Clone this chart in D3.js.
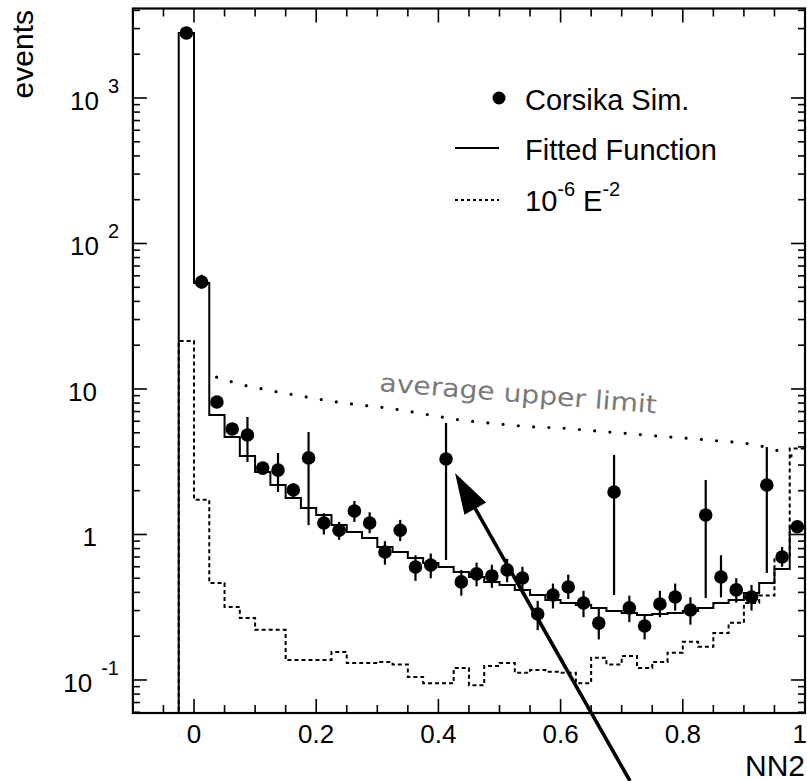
<!DOCTYPE html>
<html><head><meta charset="utf-8">
<script src="https://cdn.jsdelivr.net/npm/d3@7"></script>
<style>
body{margin:0;background:#fff}
svg{display:block}
text{font-family:"Liberation Sans",Arial,Helvetica,sans-serif;fill:#000}
</style>
</head><body>
<svg id="c" width="807" height="781"></svg>
<script>
// ---------------- DATA ----------------
const binCenters = [-0.0125, 0.0125, 0.0375, 0.0625, 0.0875, 0.1125, 0.1375, 0.1625, 0.1875, 0.2125,
  0.2375, 0.2625, 0.2875, 0.3125, 0.3375, 0.3625, 0.3875, 0.4125, 0.4375, 0.4625,
  0.4875, 0.5125, 0.5375, 0.5625, 0.5875, 0.6125, 0.6375, 0.6625, 0.6875, 0.7125,
  0.7375, 0.7625, 0.7875, 0.8125, 0.8375, 0.8625, 0.8875, 0.9125, 0.9375, 0.9625, 0.9875];
const binWidth = 0.025;

// Corsika Sim. (points)
const simValues = [2800, 54.4, 8.14, 5.31, 4.83, 2.86, 2.77, 2.02, 3.36, 1.20,
  1.07, 1.45, 1.20, 0.758, 1.07, 0.598, 0.617, 3.30, 0.472, 0.536,
  0.519, 0.570, 0.502, 0.284, 0.384, 0.436, 0.338, 0.246, 1.96, 0.313,
  0.235, 0.333, 0.372, 0.303, 1.36, 0.510, 0.416, 0.372, 2.19, 0.700, 1.13];
const simErrLow = [2750, 49, 7.6, 4.9, 3.15, 2.6, 1.96, 1.8, 1.16, 1.0,
  0.92, 1.22, 1.02, 0.62, 0.9, 0.48, 0.5, 0.668, 0.38, 0.44,
  0.43, 0.47, 0.41, 0.22, 0.31, 0.36, 0.27, 0.19, 0.384, 0.25,
  0.19, 0.27, 0.3, 0.24, 0.366, 0.37, 0.34, 0.3, 0.544, 0.6, 1.05];
const simErrHigh = [2850, 61, 8.7, 5.7, 6.42, 3.15, 3.63, 2.25, 5.06, 1.4,
  1.22, 1.7, 1.42, 0.9, 1.26, 0.72, 0.74, 5.84, 0.57, 0.64,
  0.62, 0.68, 0.6, 0.35, 0.46, 0.53, 0.41, 0.31, 3.52, 0.38,
  0.28, 0.41, 0.46, 0.37, 2.37, 0.72, 0.5, 0.45, 3.99, 0.82, 1.22];

// Fitted Function (solid histogram)
const fitValues = [2800, 53.5, 6.63, 4.68, 3.46, 2.69, 2.19, 1.78, 1.52, 1.36,
  1.16, 1.04, 0.946, 0.82, 0.758, 0.69, 0.637, 0.598, 0.552, 0.51,
  0.472, 0.45, 0.415, 0.384, 0.355, 0.338, 0.328, 0.313, 0.298, 0.289,
  0.28, 0.284, 0.289, 0.298, 0.313, 0.338, 0.355, 0.396, 0.464, 0.579, 1.13];

// 10^-6 E^-2 (dashed histogram)
const e2Values = [21.4, 1.73, 0.464, 0.318, 0.267, 0.221, 0.221, 0.137, 0.137, 0.137,
  0.156, 0.131, 0.131, 0.133, 0.128, 0.105, 0.095, 0.095, 0.121, 0.092,
  0.125, 0.131, 0.112, 0.117, 0.114, 0.112, 0.095, 0.142, 0.128, 0.146,
  0.121, 0.133, 0.154, 0.183, 0.169, 0.21, 0.247, 0.338, 0.38, 0.70, 3.9];

// average upper limit (dotted curve)
const ulX = [0.037, 0.062, 0.087, 0.112, 0.137, 0.162, 0.187, 0.212, 0.237, 0.262, 0.287, 0.312,
  0.336, 0.386, 0.436, 0.5, 0.55, 0.6, 0.66, 0.76, 0.86, 0.91, 0.96, 0.985];
const ulY = [12.05, 11.2, 10.5, 10.0, 9.53, 9.14, 8.77, 8.40, 8.10, 7.85, 7.64, 7.44,
  7.2, 6.62, 6.12, 5.75, 5.51, 5.39, 5.14, 4.75, 4.39, 4.19, 3.71, 3.36];

// axes
const xDomain = [-0.1, 1.0];
const yDomain = [0.0593, 4122];
const xTickLabels = [0, 0.2, 0.4, 0.6, 0.8, 1];
const xTickText = ["0", "0.2", "0.4", "0.6", "0.8", "1"];
const yTickVals = [0.1, 1, 10, 100, 1000];
const yTickBase = ["10", "1", "10", "10", "10"];
const yTickExp = ["-1", "", "", "2", "3"];

// ---------------- DRAW ----------------
const svg = d3.select("#c");
svg.append("rect").attr("width", 807).attr("height", 781).attr("fill", "#fff");
const L = 132.9, R = 805, T = 8.5, B = 713;
const x = d3.scaleLinear().domain(xDomain).range([L, R]);
const y = d3.scaleLog().domain(yDomain).range([B, T]);

svg.append("clipPath").attr("id", "clip").append("rect")
  .attr("x", L).attr("y", T).attr("width", R - L).attr("height", B - T);
const plot = svg.append("g").attr("clip-path", "url(#clip)");

function stepPath(vals) {
  const p = d3.path();
  const x0 = binCenters[0] - binWidth / 2;
  p.moveTo(x(x0), B + 5);
  vals.forEach((v, i) => {
    const a = binCenters[i] - binWidth / 2, b = binCenters[i] + binWidth / 2;
    p.lineTo(x(a), y(v));
    p.lineTo(x(b), y(v));
  });
  const last = binCenters[binCenters.length - 1] + binWidth / 2;
  p.lineTo(x(last), B + 5);
  return p.toString();
}

// dashed E^-2 histogram
plot.append("path").attr("d", stepPath(e2Values)).attr("fill", "none")
  .attr("stroke", "#000").attr("stroke-width", 2).attr("stroke-dasharray", "4,3");
// fitted function
plot.append("path").attr("d", stepPath(fitValues)).attr("fill", "none")
  .attr("stroke", "#000").attr("stroke-width", 2);

// average upper limit dotted curve
const ulLine = d3.line().x((d, i) => x(ulX[i])).y((d, i) => y(ulY[i])).curve(d3.curveMonotoneX);
plot.append("path").attr("d", ulLine(ulX)).attr("fill", "none")
  .attr("stroke", "#000").attr("stroke-width", 3.2).attr("stroke-linecap", "round")
  .attr("stroke-dasharray", "0,15.3");

// text on the upper-limit curve
svg.append("text").attr("transform", "translate(379,391) rotate(4.6)")
  .attr("font-size", 25).attr("textLength", 278).attr("lengthAdjust", "spacingAndGlyphs")
  .style("font-family", "'DejaVu Sans',sans-serif").style("fill", "#7a7a7a")
  .text("average upper limit");

// error bars and markers
const pts = plot.append("g");
binCenters.forEach((c, i) => {
  pts.append("line").attr("x1", x(c)).attr("x2", x(c))
    .attr("y1", y(simErrLow[i])).attr("y2", y(simErrHigh[i]))
    .attr("stroke", "#000").attr("stroke-width", 2.2);
});
pts.selectAll("circle").data(simValues).enter().append("circle")
  .attr("cx", (d, i) => x(binCenters[i])).attr("cy", d => y(d)).attr("r", 6.8).attr("fill", "#000");

// frame
svg.append("rect").attr("x", L).attr("y", T).attr("width", R - L).attr("height", B - T)
  .attr("fill", "none").attr("stroke", "#000").attr("stroke-width", 2.2);

// x ticks (bottom and top, inward)
const xMinor = d3.range(-0.05, 1.0001, 0.05).filter(v => Math.abs(v / 0.2 - Math.round(v / 0.2)) > 1e-6);
const gx = svg.append("g").attr("stroke", "#000").attr("stroke-width", 1.6);
xTickLabels.forEach(v => {
  gx.append("line").attr("x1", x(v)).attr("x2", x(v)).attr("y1", B).attr("y2", B - 14);
  gx.append("line").attr("x1", x(v)).attr("x2", x(v)).attr("y1", T).attr("y2", T + 14);
});
xMinor.forEach(v => {
  gx.append("line").attr("x1", x(v)).attr("x2", x(v)).attr("y1", B).attr("y2", B - 8);
  gx.append("line").attr("x1", x(v)).attr("x2", x(v)).attr("y1", T).attr("y2", T + 8);
});
xTickLabels.forEach((v, i) => {
  const t = svg.append("text").attr("y", 743).attr("font-size", 26).text(xTickText[i]);
  if (v === 1) t.attr("x", 807).attr("text-anchor", "end");
  else t.attr("x", x(v)).attr("text-anchor", "middle");
});

// y ticks (left and right, inward)
const gy = svg.append("g").attr("stroke", "#000").attr("stroke-width", 1.6);
const yAll = y.ticks(30).filter(v => v >= yDomain[0] && v <= yDomain[1]);
yAll.forEach(v => {
  const major = Math.abs(Math.log10(v) - Math.round(Math.log10(v))) < 1e-9;
  const len = major ? 14 : 7;
  gy.append("line").attr("x1", L).attr("x2", L + len).attr("y1", y(v)).attr("y2", y(v));
  gy.append("line").attr("x1", R).attr("x2", R - len).attr("y1", y(v)).attr("y2", y(v));
});
yTickVals.forEach((v, i) => {
  const t = svg.append("text").attr("y", y(v) + 12).attr("font-size", 26).attr("text-anchor", "end");
  if (yTickExp[i]) {
    t.attr("x", 119);
    t.append("tspan").text(yTickBase[i]);
    t.append("tspan").attr("dx", 9).attr("dy", -17).attr("font-size", 20).text(yTickExp[i]);
  } else {
    t.attr("x", 97).text(yTickBase[i]);
  }
});

// axis titles
svg.append("text").attr("transform", "translate(33,10) rotate(-90)").attr("text-anchor", "end")
  .attr("font-size", 30).text("events");
svg.append("text").attr("x", 805).attr("y", 776).attr("text-anchor", "end")
  .attr("font-size", 30).text("NN2");

// legend
const lg = svg.append("g");
lg.append("circle").attr("cx", 499).attr("cy", 98).attr("r", 6.5).attr("fill", "#000");
lg.append("text").attr("x", 525).attr("y", 110).attr("font-size", 29).text("Corsika Sim.");
lg.append("line").attr("x1", 455).attr("x2", 499).attr("y1", 148).attr("y2", 148)
  .attr("stroke", "#000").attr("stroke-width", 2);
lg.append("text").attr("x", 525).attr("y", 160).attr("font-size", 29).text("Fitted Function");
lg.append("line").attr("x1", 455).attr("x2", 499).attr("y1", 200).attr("y2", 200)
  .attr("stroke", "#000").attr("stroke-width", 2).attr("stroke-dasharray", "3,3");
const t3 = lg.append("text").attr("x", 525).attr("y", 211).attr("font-size", 29);
t3.append("tspan").text("10");
t3.append("tspan").attr("dy", -15).attr("font-size", 20).text("-6");
t3.append("tspan").attr("dy", 15).attr("dx", 8).text("E");
t3.append("tspan").attr("dy", -15).attr("font-size", 20).text("-2");

// arrow pointing at the outlier point
const tipX = x(binCenters[17]) + 9, tipY = y(simValues[17]) + 14;
const tailX = 630, tailY = 781;
const dx = tailX - tipX, dy = tailY - tipY, len = Math.hypot(dx, dy);
const ux = dx / len, uy = dy / len;
const hl = 41, hw = 12.5;
const bx = tipX + ux * hl, by = tipY + uy * hl;
svg.append("line").attr("x1", bx).attr("y1", by).attr("x2", tailX).attr("y2", tailY)
  .attr("stroke", "#000").attr("stroke-width", 3.6);
svg.append("path").attr("d", `M${tipX},${tipY}L${bx - uy * hw},${by + ux * hw}L${bx + uy * hw},${by - ux * hw}Z`)
  .attr("fill", "#000");
</script>
</body></html>
